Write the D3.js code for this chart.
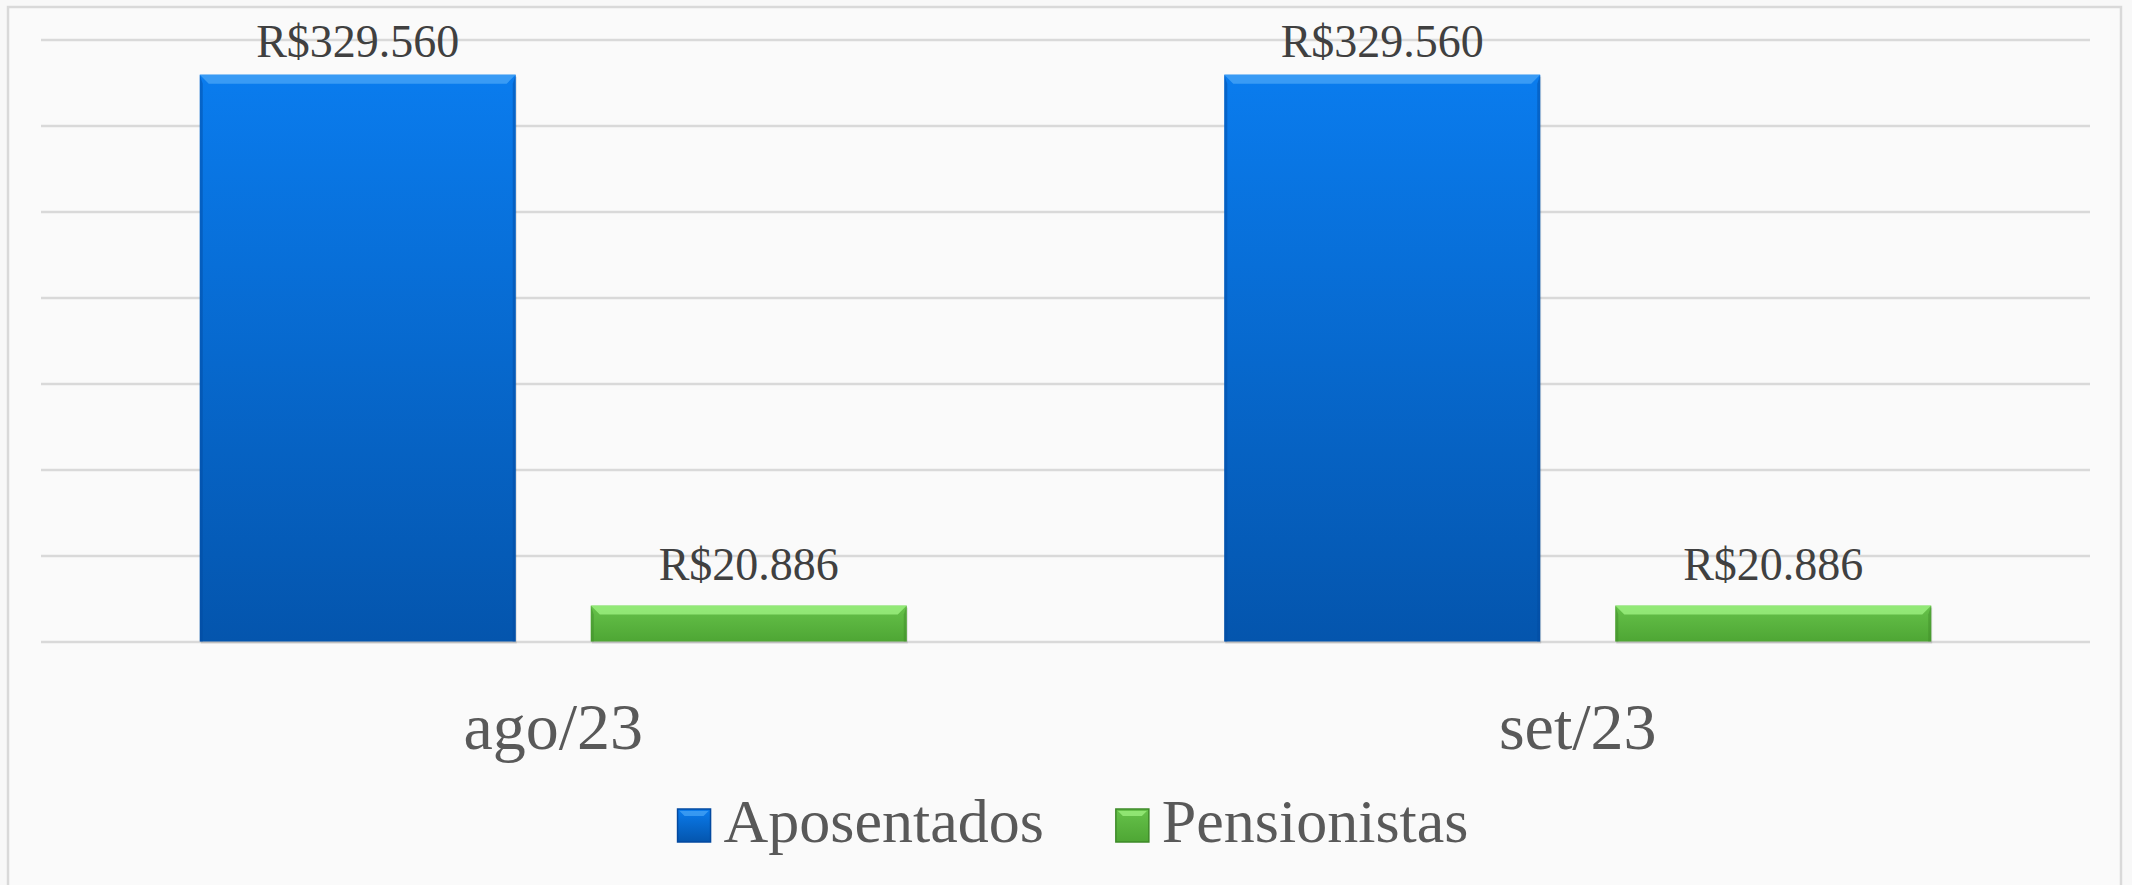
<!DOCTYPE html>
<html>
<head>
<meta charset="utf-8">
<script src="https://cdn.jsdelivr.net/npm/d3@7"></script>
<style>
    body { margin: 0; background: #f8f8f8; }
    svg { display: block; }
</style>
</head>
<body>
<div id="chart"></div>
<script>
// data
const categories = ["ago/23", "set/23"];
const seriesNames = ["Aposentados", "Pensionistas"];
const aposentados = [329560, 329560];
const pensionistas = [20886, 20886];
const yTicks = [0, 50000, 100000, 150000, 200000, 250000, 300000, 350000];

const W = 2132, H = 885;
const margin = {top: 39.5, right: 42, bottom: 243.5, left: 41};
const width = W - margin.left - margin.right;
const height = H - margin.top - margin.bottom;

// colours for each series: [top, bottom, bevel light, bevel dark]
const colors = {
    "Aposentados": ["#0a7cee", "#0455ad", "#4aa6f7", "#0349a0"],
    "Pensionistas": ["#66c24a", "#4ea634", "#a2f585", "#3e8a28"]
};

let svg = d3.select("#chart").append("svg")
    .attr("width", W)
    .attr("height", H);

// gradients
let defs = svg.append("defs");
seriesNames.forEach((s, i) => {
    let g = defs.append("linearGradient")
        .attr("id", "grad" + i)
        .attr("x1", 0).attr("y1", 0).attr("x2", 0).attr("y2", 1);
    g.append("stop").attr("offset", "0%").attr("stop-color", colors[s][0]);
    g.append("stop").attr("offset", "100%").attr("stop-color", colors[s][1]);
});

// chart frame
svg.append("rect")
    .attr("x", 8).attr("y", 7)
    .attr("width", 2113).attr("height", 900)
    .attr("fill", "#fafafa")
    .attr("stroke", "#d9d9d9")
    .attr("stroke-width", 2.5);

let g = svg.append("g")
    .attr("transform", "translate(" + margin.left + "," + margin.top + ")");

// scales
let x0 = d3.scaleBand()
    .domain(categories)
    .range([0, width])
    .padding(0);

let x1 = d3.scaleBand()
    .domain(seriesNames)
    .range([0, x0.bandwidth()])
    .paddingInner(0.192)
    .paddingOuter(0.406);

let y = d3.scaleLinear()
    .domain([0, 350000])
    .range([height, 0]);

// gridlines
let grid = g.append("g")
    .attr("class", "grid")
    .call(d3.axisLeft(y).tickValues(yTicks).tickSize(-width).tickFormat(""));
grid.select(".domain").remove();
grid.selectAll("line")
    .attr("stroke", "#d9d9d9")
    .attr("stroke-width", 2.5);

// rows of data
let rows = categories.map((c, i) => ({
    cat: c,
    values: [
        {key: "Aposentados", value: aposentados[i]},
        {key: "Pensionistas", value: pensionistas[i]}
    ]
}));

let fmt = v => "R$" + d3.format(",")(v).replace(/,/g, ".");
let bev = 9;

let groups = g.selectAll(".cat")
    .data(rows)
    .enter()
    .append("g")
    .attr("class", "cat")
    .attr("transform", d => "translate(" + x0(d.cat) + ",0)");

let bars = groups.selectAll(".bar")
    .data(d => d.values)
    .enter()
    .append("g")
    .attr("class", "bar");

// soft shadow under the bar
bars.append("rect")
    .attr("x", d => x1(d.key) + 1)
    .attr("y", d => y(d.value) + 2)
    .attr("width", x1.bandwidth())
    .attr("height", d => height - y(d.value))
    .attr("fill", "#000")
    .attr("opacity", 0.12);

bars.append("rect")
    .attr("x", d => x1(d.key))
    .attr("y", d => y(d.value))
    .attr("width", x1.bandwidth())
    .attr("height", d => height - y(d.value))
    .attr("fill", d => "url(#grad" + seriesNames.indexOf(d.key) + ")");

// bevel: top light edge
bars.append("path")
    .attr("d", d => {
        let xl = x1(d.key), xr = xl + x1.bandwidth(), yt = y(d.value);
        return "M" + xl + "," + yt + "L" + xr + "," + yt +
            "L" + (xr - bev) + "," + (yt + bev) + "L" + (xl + bev) + "," + (yt + bev) + "Z";
    })
    .attr("fill", d => colors[d.key][2])
    .attr("opacity", 0.75);

// bevel: side dark edges
bars.append("path")
    .attr("d", d => {
        let xl = x1(d.key), yt = y(d.value);
        return "M" + xl + "," + yt + "L" + (xl + 3) + "," + (yt + bev) +
            "L" + (xl + 3) + "," + height + "L" + xl + "," + height + "Z";
    })
    .attr("fill", d => colors[d.key][3])
    .attr("opacity", 0.45);

bars.append("path")
    .attr("d", d => {
        let xr = x1(d.key) + x1.bandwidth(), yt = y(d.value);
        return "M" + xr + "," + yt + "L" + (xr - 3) + "," + (yt + bev) +
            "L" + (xr - 3) + "," + height + "L" + xr + "," + height + "Z";
    })
    .attr("fill", d => colors[d.key][3])
    .attr("opacity", 0.45);

// value labels
bars.append("text")
    .attr("x", d => x1(d.key) + x1.bandwidth() / 2)
    .attr("y", d => Math.max(y(d.value) - 26, 17))
    .attr("text-anchor", "middle")
    .attr("font-family", "'Liberation Serif', serif")
    .attr("font-size", "46px")
    .attr("fill", "#404040")
    .text(d => fmt(d.value));

// category labels
g.selectAll(".catLabel")
    .data(categories)
    .enter()
    .append("text")
    .attr("class", "catLabel")
    .attr("x", d => x0(d) + x0.bandwidth() / 2)
    .attr("y", height + 107)
    .attr("text-anchor", "middle")
    .attr("font-family", "'Liberation Serif', serif")
    .attr("font-size", "66px")
    .attr("fill", "#595959")
    .text(d => d);

// legend
let legend = svg.append("g").attr("class", "legend");
let lx = 0;
seriesNames.forEach((s, i) => {
    let item = legend.append("g").attr("transform", "translate(" + lx + ",0)");
    item.append("rect")
        .attr("x", 0).attr("y", 809)
        .attr("width", 33).attr("height", 33)
        .attr("fill", "url(#grad" + i + ")")
        .attr("stroke", colors[s][3])
        .attr("stroke-width", 1.5);
    item.append("path")
        .attr("d", "M2,811L7,816L26,816L31,811Z")
        .attr("fill", colors[s][2])
        .attr("opacity", 0.7);
    let t = item.append("text")
        .attr("x", 46).attr("y", 842)
        .attr("font-family", "'Liberation Serif', serif")
        .attr("font-size", "62px")
        .attr("fill", "#595959")
        .text(s);
    lx += 46 + t.node().getComputedTextLength() + 72;
});
let lw = legend.node().getBBox().width;
legend.attr("transform", "translate(" + (1073 - lw / 2) + ",0)");
</script>
</body>
</html>
